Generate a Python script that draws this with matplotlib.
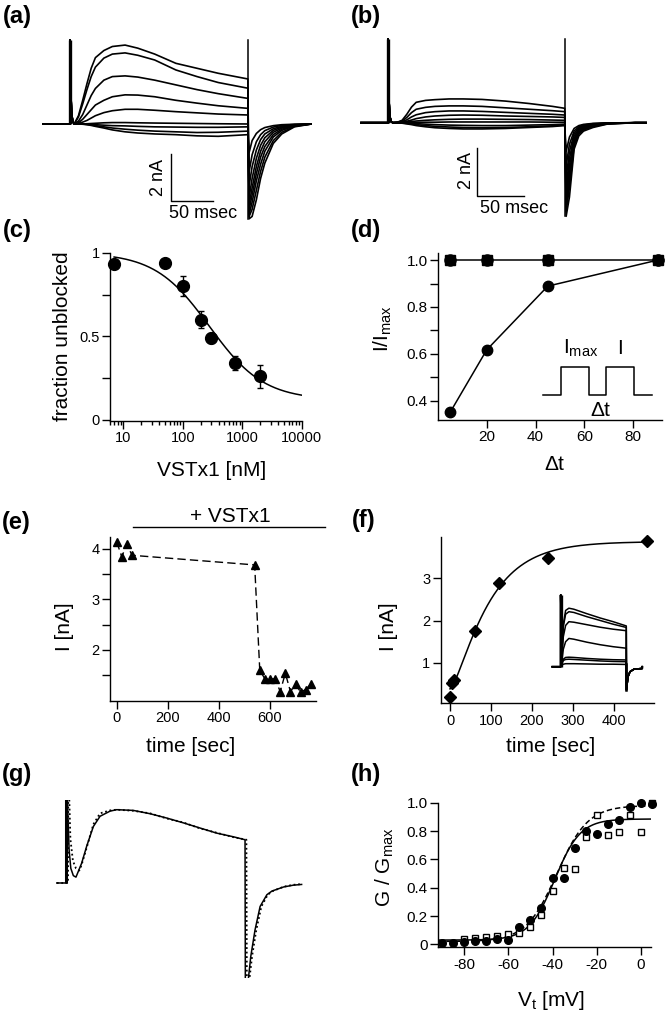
import numpy as np
import matplotlib.pyplot as plt

plt.rcParams['font.family'] = ['Liberation Sans', 'DejaVu Sans']
plt.rcParams['mathtext.fontset'] = 'custom'
plt.rcParams['mathtext.rm'] = 'Liberation Sans'
plt.rcParams['mathtext.it'] = 'Liberation Sans:italic'
plt.rcParams['axes.linewidth'] = 1.0

W, H = 668, 1017

# ---------------- (a) control current traces (ms, nA) ----------------
a_t = [5, 10, 15, 20, 25, 30, 40, 50, 65, 80, 100, 125, 150, 175, 210]
a_pulse = [
    [0.0, 0.35, 1.0, 1.7, 2.35, 2.8, 3.1, 3.27, 3.33, 3.2, 2.95, 2.56, 2.35, 2.14, 1.9],
    [0.0, 0.3, 0.85, 1.45, 2.0, 2.4, 2.78, 2.95, 3.0, 2.9, 2.7, 2.28, 2.0, 1.75, 1.51],
    [0.0, 0.12, 0.4, 0.8, 1.2, 1.5, 1.85, 2.0, 2.03, 1.98, 1.85, 1.65, 1.45, 1.28, 1.08],
    [0.0, 0.05, 0.2, 0.4, 0.6, 0.8, 1.0, 1.15, 1.23, 1.22, 1.15, 1.0, 0.88, 0.77, 0.66],
    [0.0, 0.02, 0.08, 0.15, 0.25, 0.35, 0.48, 0.56, 0.62, 0.62, 0.58, 0.52, 0.47, 0.42, 0.38],
    [0.0, 0.0, 0.0, 0.01, 0.02, 0.03, 0.05, 0.06, 0.06, 0.05, 0.04, 0.03, 0.02, 0.01, 0.0],
    [0.0, 0.0, 0.0, 0.0, -0.02, -0.03, -0.05, -0.07, -0.08, -0.1, -0.12, -0.13, -0.14, -0.14, -0.12],
    [0.0, 0.0, 0.0, -0.02, -0.04, -0.07, -0.12, -0.17, -0.22, -0.26, -0.3, -0.33, -0.36, -0.35, -0.3],
    [0.0, 0.0, -0.01, -0.03, -0.06, -0.1, -0.17, -0.25, -0.33, -0.38, -0.42, -0.45, -0.5, -0.52, -0.45],
]
a_tail_t = [1.5, 5, 10, 15, 20, 30, 40, 55, 75]
a_tails = [
    [-4.0, -3.9, -3.2, -2.3, -1.65, -0.82, -0.42, -0.12, 0.0],
    [-3.9, -3.6, -2.8, -2.0, -1.4, -0.7, -0.35, -0.1, 0.0],
    [-3.8, -3.3, -2.4, -1.7, -1.15, -0.55, -0.27, -0.08, 0.0],
    [-3.6, -3.0, -2.1, -1.4, -0.95, -0.45, -0.22, -0.06, 0.0],
    [-3.4, -2.7, -1.8, -1.15, -0.75, -0.35, -0.17, -0.05, 0.0],
    [-3.1, -2.3, -1.45, -0.9, -0.58, -0.27, -0.13, -0.04, 0.0],
    [-2.6, -1.8, -1.1, -0.66, -0.42, -0.2, -0.1, -0.03, 0.0],
    [-2.0, -1.3, -0.75, -0.45, -0.28, -0.13, -0.06, -0.02, 0.0],
    [-1.2, -0.7, -0.4, -0.24, -0.15, -0.07, -0.03, -0.01, 0.0],
]
a_spike_t = [0, 0, 0.8, 1.8, 3.2]
a_spike_i = [0.0, 3.54, 1.6, 0.5, 0.1]

# ---------------- (b) traces with VSTx1 ----------------
b_t = [5, 10, 15, 20, 25, 30, 40, 50, 65, 80, 100, 125, 150, 175, 188]
b_pulse = [
    [0.0, 0.02, 0.1, 0.35, 0.65, 0.85, 0.93, 0.96, 0.99, 0.99, 0.97, 0.9, 0.8, 0.68, 0.6],
    [0.0, 0.02, 0.07, 0.22, 0.42, 0.56, 0.64, 0.68, 0.7, 0.7, 0.68, 0.62, 0.56, 0.5, 0.46],
    [0.0, 0.01, 0.04, 0.12, 0.24, 0.33, 0.42, 0.46, 0.49, 0.49, 0.47, 0.43, 0.39, 0.35, 0.32],
    [0.0, 0.0, 0.02, 0.06, 0.11, 0.17, 0.24, 0.28, 0.31, 0.32, 0.31, 0.28, 0.26, 0.24, 0.22],
    [0.0, 0.0, 0.01, 0.03, 0.05, 0.07, 0.1, 0.12, 0.14, 0.15, 0.15, 0.14, 0.13, 0.11, 0.1],
    [0.0, 0.0, 0.0, 0.0, 0.0, 0.01, 0.02, 0.02, 0.03, 0.03, 0.03, 0.03, 0.03, 0.02, 0.02],
    [0.0, 0.0, 0.0, -0.01, -0.02, -0.04, -0.06, -0.08, -0.1, -0.11, -0.12, -0.12, -0.1, -0.08, -0.06],
    [0.0, 0.0, -0.01, -0.03, -0.05, -0.08, -0.12, -0.15, -0.18, -0.2, -0.21, -0.2, -0.17, -0.13, -0.1],
    [0.0, 0.0, -0.02, -0.05, -0.08, -0.12, -0.17, -0.21, -0.24, -0.26, -0.26, -0.24, -0.2, -0.16, -0.12],
]
b_tail_t = [1.5, 5, 10, 15, 20, 30, 45, 75]
b_tails = [
    [-3.9, -3.1, -1.1, -0.55, -0.35, -0.2, -0.06, 0.0],
    [-3.7, -2.7, -0.95, -0.47, -0.3, -0.16, -0.05, 0.0],
    [-3.5, -2.4, -0.85, -0.42, -0.26, -0.13, -0.04, 0.0],
    [-3.3, -2.1, -0.75, -0.37, -0.22, -0.11, -0.03, 0.0],
    [-3.0, -1.8, -0.65, -0.32, -0.19, -0.09, -0.03, 0.0],
    [-2.7, -1.5, -0.55, -0.27, -0.16, -0.07, -0.02, 0.0],
    [-2.3, -1.2, -0.45, -0.22, -0.13, -0.06, -0.02, 0.0],
    [-1.8, -0.9, -0.35, -0.17, -0.1, -0.04, -0.01, 0.0],
    [-1.2, -0.6, -0.24, -0.12, -0.07, -0.03, -0.01, 0.0],
]
b_spike_t = [0, 0, 0.8, 1.8, 3.2]
b_spike_i = [0.0, 3.49, 1.2, 0.3, 0.05]

# ---------------- (c) dose response ----------------
c_conc = [7, 50, 100, 200, 300, 750, 2000]
c_frac = [0.93, 0.94, 0.80, 0.60, 0.49, 0.34, 0.26]
c_err = [0.0, 0.0, 0.06, 0.05, 0.03, 0.04, 0.07]
c_fit_bottom, c_fit_ic50, c_fit_n = 0.12, 280.0, 0.95

# ---------------- (d) recovery ----------------
d_dt = [5, 20, 45, 90]
d_control = [1.0, 1.0, 1.0, 1.0]
d_toxin = [0.35, 0.617, 0.889, 1.0]
d_prot_x = [43.1, 50.3, 50.3, 62.0, 62.0, 68.7, 68.7, 80.2, 80.2, 87.5]
d_prot_y = [0.424, 0.424, 0.545, 0.545, 0.424, 0.424, 0.545, 0.545, 0.424, 0.424]

# ---------------- (e) time course of block ----------------
e_time = [0, 20, 40, 60, 540, 560, 580, 600, 620, 640, 660, 680, 700, 720, 740, 760]
e_curr = [4.14, 3.84, 4.09, 3.87, 3.68, 1.6, 1.43, 1.43, 1.43, 1.18, 1.54, 1.18, 1.32, 1.17, 1.22, 1.33]

# ---------------- (f) washout recovery ----------------
f_time = [0, 5, 10, 60, 120, 240, 480]
f_curr = [0.18, 0.53, 0.6, 1.74, 2.9, 3.49, 3.89]
f_fit_y0, f_fit_ymax, f_fit_tau, f_fit_p = 0.38, 3.87, 79.0, 1.5
# inset traces
fi_t = [3, 8, 15, 25, 40, 80, 120, 160, 200]
fi_pulse = [
    [0.4, 1.7, 2.25, 2.34, 2.3, 2.12, 1.95, 1.8, 1.63],
    [0.4, 1.6, 2.1, 2.2, 2.17, 2.0, 1.85, 1.7, 1.57],
    [0.3, 1.2, 1.65, 1.8, 1.78, 1.68, 1.58, 1.5, 1.44],
    [0.2, 0.7, 1.0, 1.13, 1.1, 0.98, 0.88, 0.8, 0.74],
    [0.1, 0.3, 0.37, 0.38, 0.37, 0.33, 0.3, 0.28, 0.27],
    [0.1, 0.25, 0.29, 0.3, 0.29, 0.26, 0.23, 0.21, 0.2],
    [0.05, 0.1, 0.12, 0.12, 0.12, 0.11, 0.1, 0.1, 0.09],
]
fi_tail_t = [0.5, 5.2, 11.3, 23.5, 48.8]
fi_tail = [-0.93, -0.4, -0.2, -0.1, -0.07]
fi_spike_t = [0, 0, 1.5]
fi_spike_i = [0.0, 2.87, 0.6]

# ---------------- (g) recorded trace and model ----------------
g_t_fit = [-12, -1.2, -1.0, 2.5, 4.5, 7.5, 10.6, 17.3, 23.2, 31.1, 39, 50.8, 58.7, 78.3, 98,
           117.7, 137.4, 157, 176.8, 196.5, 210.2, 210.6, 214.2, 217, 222, 228, 236, 242,
           255.5, 267, 277]
g_i_fit = [0, 0, 1.6, 0.45, 0.2, 0.1, 0.08, 0.27, 0.5, 0.77, 0.91, 0.98, 1.0, 0.99, 0.945,
           0.886, 0.82, 0.75, 0.68, 0.63, 0.59, -1.6, -1.3, -1.0, -0.64, -0.32, -0.16, -0.11,
           -0.055, -0.03, -0.02]
g_t_rec = [-12, 1.2, 1.6, 4, 7, 10.6, 14.6, 17.3, 23.2, 31.1, 39, 50.8, 58.7, 78.3, 98, 117.7,
           137.4, 157, 176.8, 196.5, 211.8, 212.4, 215.5, 218.5, 223.5, 229.5, 237, 243, 256,
           267, 277]
g_i_rec = [0, 0, 1.6, 0.6, 0.3, 0.2, 0.17, 0.25, 0.48, 0.8, 0.95, 0.99, 1.0, 0.985, 0.95, 0.88,
           0.825, 0.745, 0.685, 0.625, 0.59, -1.6, -1.3, -1.0, -0.64, -0.32, -0.16, -0.11,
           -0.05, -0.025, -0.015]

# ---------------- (h) G-V ----------------
h_v = [-90, -85, -80, -75, -70, -65, -60, -55, -50, -45, -40, -35, -30, -25, -20, -15, -10, -5, 0, 5]
h_circ = [0.01, 0.01, 0.015, 0.02, 0.025, 0.04, 0.03, 0.12, 0.17, 0.26, 0.466, 0.47, 0.68, 0.80,
          0.78, 0.85, 0.88, 0.97, 1.0, 0.99]
h_sq_v = [-80, -75, -70, -65, -60, -55, -50, -45, -40, -35, -30, -25, -20, -15, -10, -5, 0, 5]
h_sq = [0.035, 0.047, 0.05, 0.06, 0.075, 0.08, 0.12, 0.21, 0.38, 0.54, 0.53, 0.755, 0.91, 0.77,
        0.79, 0.91, 0.79, 1.0]
h_solid = dict(bottom=0.03, top=0.885, vhalf=-39.0, slope=5.8)
h_dashed = dict(bottom=0.02, top=0.98, vhalf=-38.0, slope=7.0)

fig = plt.figure(figsize=(W / 100, H / 100), dpi=100)


def axes_px(x0, y0, x1, y1):
    return fig.add_axes([x0 / W, 1 - y1 / H, (x1 - x0) / W, (y1 - y0) / H])


def text_px(x, y, s, **kw):
    fig.text(x / W, 1 - y / H, s, **kw)


def igor(ax):
    for side in ('top', 'right'):
        ax.spines[side].set_visible(False)
    ax.tick_params(which='major', direction='out', length=5.5, width=1, labelsize=10.5, pad=2)
    ax.tick_params(which='minor', direction='out', length=3, width=1)
    ax.patch.set_alpha(0)


def draw_traces(ax, grid_t, pulse, tail_t, tails, pulse_end, spike_t, spike_i, t0, t1, lw=1.2):
    for vals, tail in zip(pulse, tails):
        t = [t0] + list(spike_t) + list(grid_t) + [pulse_end + x for x in tail_t] + [t1]
        i = [0.0] + list(spike_i) + list(vals) + list(tail) + [0.0]
        ax.plot(t, i, color='black', lw=lw)
    # thick capacitive transient at pulse onset
    ax.plot([0, 0], [0, spike_i[1]], color='black', lw=2.4, solid_capstyle='butt')


def blank(ax):
    ax.set_axis_off()
    ax.patch.set_alpha(0)


# ---- (a)
ax = axes_px(42, 36, 312, 225)
blank(ax)
draw_traces(ax, a_t, a_pulse, a_tail_t, a_tails, 210, a_spike_t, a_spike_i, -33, 283)
ax.plot([210, 210], [-4.0, 3.54], color='black', lw=1.1)
ax.plot([119.2, 119.2, 169.2], [-1.25, -3.25, -3.25], color='black', lw=1.0)
ax.text(104, -2.24, '2 nA', rotation=90, ha='center', va='center', fontsize=13)
ax.text(157, -3.78, '50 msec', ha='center', va='center', fontsize=13)
ax.set_xlim(-33.06, 285.7)
ax.set_ylim(-4.262, 3.713)

# ---- (b)
ax = axes_px(355, 36, 650, 225)
blank(ax)
draw_traces(ax, b_t, b_pulse, b_tail_t, b_tails, 188, b_spike_t, b_spike_i, -28.7, 274.5)
ax.plot([188, 188], [-3.9, 3.49], color='black', lw=1.1)
ax.plot([94.7, 94.7, 144.7], [-1.05, -3.05, -3.05], color='black', lw=1.0)
ax.text(84, -2.0, '2 nA', rotation=90, ha='center', va='center', fontsize=13)
ax.text(134, -3.56, '50 msec', ha='center', va='center', fontsize=13)
ax.set_xlim(-35.1, 278.7)
ax.set_ylim(-4.2625, 3.6125)

# ---- (c)
ax = axes_px(110, 252.7, 301.7, 421)
igor(ax)
ax.set_xscale('log')
cx = np.logspace(np.log10(7), 4, 300)
ax.plot(cx, c_fit_bottom + (1 - c_fit_bottom) / (1 + (cx / c_fit_ic50) ** c_fit_n), color='black', lw=1.1)
ax.errorbar(c_conc, c_frac, yerr=c_err, fmt='o', color='black', ms=8.5, capsize=2.5,
            elinewidth=1, capthick=1, clip_on=False)
ax.set_xlim(5.97, 10000)
ax.set_ylim(-0.006, 1.0)
ax.set_xticks([10, 100, 1000, 10000])
ax.set_xticklabels(['10', '100', '1000', '10000'])
ax.xaxis.set_minor_formatter(plt.NullFormatter())
ax.set_yticks([0, 0.25, 0.5, 0.75, 1.0])
ax.set_yticklabels(['0', '', '0.5', '', '1'])
text_px(62, 336, 'fraction unblocked', rotation=90, ha='center', va='center', fontsize=15)
text_px(212, 470, 'VSTx1 [nM]', ha='center', va='center', fontsize=15)

# ---- (d)
ax = axes_px(438.3, 253.3, 661.7, 420)
igor(ax)
ax.plot(d_dt, d_control, 's-', color='black', ms=7, lw=1.1, clip_on=False)
ax.plot(d_dt, d_control, 'o', color='black', ms=8, clip_on=False)
ax.plot(d_dt, d_toxin, 'o-', color='black', ms=7.5, lw=1.1, clip_on=False)
ax.plot(d_prot_x, d_prot_y, color='black', lw=1.1)
ax.text(51.3, 0.623, r'I$_{\mathrm{max}}$', ha='left', va='center', fontsize=15)
ax.text(74.5, 0.623, 'I', ha='center', va='center', fontsize=15)
ax.text(66.3, 0.36, '\u0394t', ha='center', va='center', fontsize=15)
ax.set_xlim(0.2, 91.6)
ax.set_ylim(0.318, 1.029)
ax.set_xticks([20, 40, 60, 80])
ax.set_yticks([0.4, 0.5, 0.6, 0.7, 0.8, 0.9, 1.0])
ax.set_yticklabels(['0.4', '', '0.6', '', '0.8', '', '1.0'])
ax.tick_params(labelsize=11)
text_px(383, 328, r'I/I$_{\mathrm{max}}$', rotation=90, ha='center', va='center', fontsize=15)
text_px(554, 465, '\u0394t', ha='center', va='center', fontsize=15)

# ---- (e)
ax = axes_px(110, 536.7, 316, 701)
igor(ax)
ax.plot(e_time, e_curr, '^', ls=(0, (6, 3)), color='black', ms=6, lw=1, clip_on=False)
ax.set_xlim(-26, 780)
ax.set_ylim(0.993, 4.237)
ax.set_xticks([0, 200, 400, 600])
ax.set_yticks([1.5, 2, 2.5, 3, 3.5, 4])
ax.set_yticklabels(['', '2', '', '3', '', '4'])
text_px(65, 627, 'I [nA]', rotation=90, ha='center', va='center', fontsize=15)
text_px(191, 746, 'time [sec]', ha='center', va='center', fontsize=15)
text_px(230, 516, '+ VSTx1', ha='center', va='center', fontsize=15)
fig.add_artist(plt.Line2D([132.7 / W, 325 / W], [1 - 526.7 / H, 1 - 526.7 / H], color='black', lw=1))

# ---- (f)
ax = axes_px(440.7, 536.7, 654, 703.3)
igor(ax)
ft = np.linspace(0, 480, 300)
ax.plot(ft, f_fit_y0 + (f_fit_ymax - f_fit_y0) * (1 - np.exp(-ft / f_fit_tau)) ** f_fit_p,
        color='black', lw=1.1)
ax.plot(f_time, f_curr, 'D', color='black', ms=6, clip_on=False)
ax.set_xlim(-22.7, 497.6)
ax.set_ylim(0.038, 3.986)
ax.set_xticks([0, 100, 200, 300, 400])
ax.set_yticks([1, 2, 3])
text_px(389, 627, 'I [nA]', rotation=90, ha='center', va='center', fontsize=15)
text_px(551, 746, 'time [sec]', ha='center', va='center', fontsize=15)

ax = axes_px(548, 592, 646, 692)
blank(ax)
draw_traces(ax, fi_t, fi_pulse, fi_tail_t, [fi_tail] * len(fi_pulse), 200, fi_spike_t, fi_spike_i,
            -25.6, 248.8, lw=1.1)
ax.plot([200, 200], [-0.93, 0.1], color='black', lw=1.8)
ax.set_xlim(-38.7, 260.1)
ax.set_ylim(-1.012, 2.988)

# ---- (g)
ax = axes_px(50, 800, 310, 978)
blank(ax)
ax.plot(g_t_fit, g_i_fit, color='black', lw=1.1)
ax.plot(g_t_rec, g_i_rec, color='black', lw=1.3, ls=(0, (1, 1.5)))
ax.plot([-1.2, -1.2], [0, 1.6], color='black', lw=2.2, solid_capstyle='butt')
ax.set_xlim(-20.07, 286.9)
ax.set_ylim(-1.296, 1.132)

# ---- (h)
ax = axes_px(438.3, 802.7, 651.3, 947.3)
igor(ax)
hv = np.linspace(-92, 5, 300)
for p, ls in ((h_solid, '-'), (h_dashed, (0, (3.5, 2)))):
    ax.plot(hv, p['bottom'] + (p['top'] - p['bottom']) / (1 + np.exp((p['vhalf'] - hv) / p['slope'])),
            color='black', lw=1.1, ls=ls)
ax.plot(h_sq_v, h_sq, 's', mfc='white', mec='black', mew=1, ms=5, clip_on=False, zorder=3)
ax.plot(h_v, h_circ, 'o', color='black', ms=5.5, clip_on=False, zorder=4)
ax.set_xlim(-91.8, 4.8)
ax.set_ylim(-0.021, 1.0)
ax.set_xticks([-80, -60, -40, -20, 0])
ax.set_xticklabels(['-80', '-60', '-40', '-20', '0'])
ax.set_yticks([0, 0.2, 0.4, 0.6, 0.8, 1.0])
ax.set_yticklabels(['0', '0.2', '0.4', '0.6', '0.8', '1.0'])
ax.tick_params(labelsize=11)
text_px(385, 867, r'G / G$_{\mathrm{max}}$', rotation=90, ha='center', va='center', fontsize=15)
text_px(551, 1001, r'V$_{\mathrm{t}}$ [mV]', ha='center', va='center', fontsize=15)

# ---- panel letters
for s, x, y in (('(a)', 3, 17), ('(b)', 351, 16), ('(c)', 3, 231), ('(d)', 351, 231),
                ('(e)', 2, 522), ('(f)', 352, 520), ('(g)', 2, 775), ('(h)', 351, 774)):
    text_px(x, y, s, ha='left', va='center', fontsize=17, fontweight='bold')

fig.savefig('out.png', dpi=100)
